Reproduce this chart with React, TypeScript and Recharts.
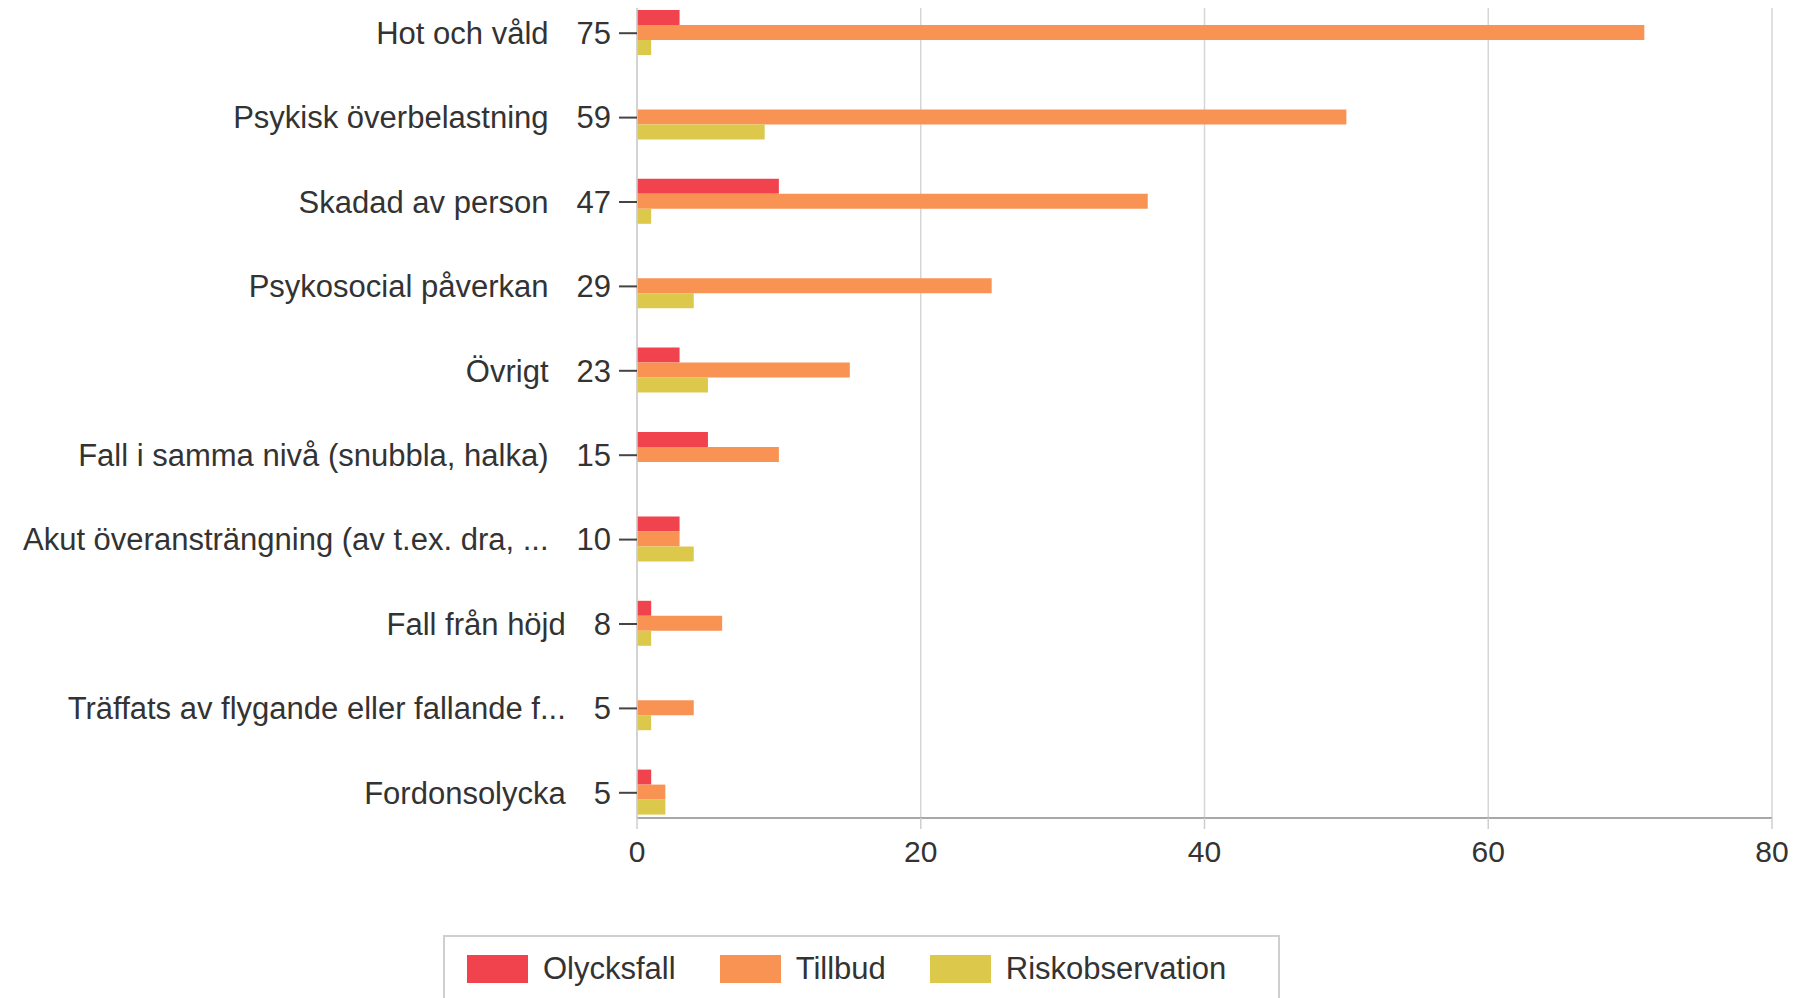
import React from 'react';
import { BarChart, Bar, XAxis, YAxis, CartesianGrid, Legend } from 'recharts';

const categories = [
  'Hot och våld',
  'Psykisk överbelastning',
  'Skadad av person',
  'Psykosocial påverkan',
  'Övrigt',
  'Fall i samma nivå (snubbla, halka)',
  'Akut överansträngning (av t.ex. dra, ...',
  'Fall från höjd',
  'Träffats av flygande eller fallande f...',
  'Fordonsolycka',
];
const totals = [75, 59, 47, 29, 23, 15, 10, 8, 5, 5];
const olycksfall = [3, 0, 10, 0, 3, 5, 3, 1, 0, 1];
const tillbud = [71, 50, 36, 25, 15, 10, 3, 6, 4, 2];
const riskobservation = [1, 9, 1, 4, 5, 0, 4, 1, 1, 2];
const xTicks = [0, 20, 40, 60, 80];

const seriesNames = ['Olycksfall', 'Tillbud', 'Riskobservation'];
const seriesColors = ['#f0434e', '#f99354', '#dcc94c'];

const data = categories.map((name, i) => ({
  name,
  total: totals[i],
  Olycksfall: olycksfall[i],
  Tillbud: tillbud[i],
  Riskobservation: riskobservation[i],
}));

const FONT = '"Liberation Sans", Arial, sans-serif';
const TEXT = '#333333';

const YTick = (props: any) => {
  const { x, y, payload } = props;
  const i = categories.indexOf(payload.value);
  return (
    <text x={x} y={y} dy="0.35em" textAnchor="end" fontSize={31} fill={TEXT} fontFamily={FONT}>
      <tspan>{payload.value}</tspan>
      <tspan dx={28}>{totals[i]}</tspan>
    </text>
  );
};

const XTick = (props: any) => {
  const { x, y, payload } = props;
  return (
    <text x={x} y={y} dy="0.71em" textAnchor="middle" fontSize={30} fill={TEXT} fontFamily={FONT}>
      {payload.value}
    </text>
  );
};

const renderLegend = (props: any) => {
  const payload = [...(props.payload || [])].sort(
    (a: any, b: any) => seriesNames.indexOf(a.value) - seriesNames.indexOf(b.value)
  );
  return (
    <div
      style={{
        border: '2px solid #cfcfcf',
        borderBottom: 'none',
        width: 837,
        height: 90,
        boxSizing: 'border-box',
        display: 'flex',
        alignItems: 'flex-start',
        paddingLeft: 22,
        paddingTop: 18,
        fontFamily: FONT,
        fontSize: 31,
        color: TEXT,
        background: '#fff',
      }}
    >
      {payload.map((entry: any) => (
        <div key={entry.value} style={{ display: 'flex', alignItems: 'center', marginRight: 44, height: 28 }}>
          <div style={{ width: 61, height: 28, background: entry.color }} />
          <span style={{ marginLeft: 15, lineHeight: '28px' }}>{entry.value}</span>
        </div>
      ))}
    </div>
  );
};

export default function App() {
  return (
    <div
      style={{
        position: 'absolute',
        left: 0,
        top: 0,
        width: 1801,
        height: 998,
        overflow: 'hidden',
        background: '#ffffff',
      }}
    >
      <BarChart
        width={1801}
        height={998}
        data={data}
        layout="vertical"
        margin={{ top: 8, right: 29, left: 0, bottom: 120 }}
        barCategoryGap={19}
        barGap={0}
      >
        <CartesianGrid horizontal={false} vertical={true} stroke="#d6d6d6" strokeWidth={1.5} />
        <XAxis
          type="number"
          domain={[0, 80]}
          ticks={xTicks}
          interval={0}
          height={60}
          tickSize={11}
          tickMargin={12}
          tick={<XTick />}
          axisLine={{ stroke: '#a8a8a8', strokeWidth: 2 }}
          tickLine={{ stroke: '#cfcfcf', strokeWidth: 1.5 }}
        />
        <XAxis
          xAxisId="top"
          orientation="top"
          type="number"
          domain={[0, 80]}
          height={0}
          tick={false}
          tickLine={false}
          axisLine={{ stroke: '#d6d6d6', strokeWidth: 2 }}
        />
        <YAxis
          type="category"
          dataKey="name"
          width={637}
          interval={0}
          padding={{ top: -17, bottom: -17 }}
          tickSize={18}
          tickMargin={8}
          tick={<YTick />}
          axisLine={{ stroke: '#cfcfcf', strokeWidth: 1.5 }}
          tickLine={{ stroke: '#444444', strokeWidth: 2 }}
        />
        <Legend
          layout="horizontal"
          verticalAlign="middle"
          align="center"
          content={renderLegend}
          wrapperStyle={{ position: 'absolute', left: 443, top: 935, width: 837, height: 90 }}
        />
        {seriesNames.map((s, i) => (
          <Bar key={s} dataKey={s} name={s} fill={seriesColors[i]} isAnimationActive={false} />
        ))}
      </BarChart>
    </div>
  );
}
